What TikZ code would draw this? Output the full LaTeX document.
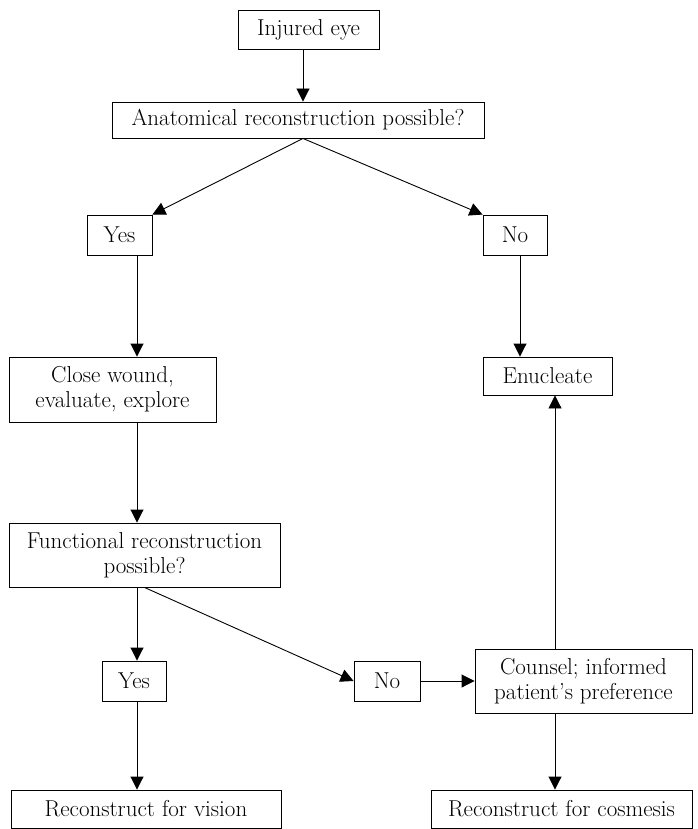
\documentclass[tikz,border=0pt]{standalone}
\usetikzlibrary{arrows.meta}
\begin{document}
\begin{tikzpicture}[x=1pt,y=-1pt,
  box/.style={draw, line width=0.9pt, inner sep=0pt, align=center,
    font=\fontsize{23}{25}\selectfont},
  arr/.style={line width=0.9pt, -{Triangle[length=13pt,width=13pt]}}]
\useasboundingbox (0,0) rectangle (697,829);
% nodes
\node[box, minimum width=141pt, minimum height=39pt] (inj) at (308.5,29.5) {Injured eye};
\node[box, minimum width=372pt, minimum height=36pt] (ana) at (298,120) {Anatomical reconstruction possible?};
\node[box, minimum width=65pt, minimum height=40pt] (yes1) at (119.5,235) {Yes};
\node[box, minimum width=64pt, minimum height=40pt] (no1) at (515,235) {No};
\node[box, minimum width=207pt, minimum height=65pt] (close) at (112.5,389.5) {Close wound,\\evaluate, explore};
\node[box, minimum width=129pt, minimum height=38pt] (enu) at (547.5,376) {Enucleate};
\node[box, minimum width=271pt, minimum height=64pt] (func) at (144.5,555) {Functional reconstruction\\possible?};
\node[box, minimum width=64pt, minimum height=40pt] (yes2) at (134,681) {Yes};
\node[box, minimum width=66pt, minimum height=40pt] (no2) at (387,681) {No};
\node[box, minimum width=217pt, minimum height=64pt] (couns) at (583.5,681) {Counsel; informed\\patient's preference};
\node[box, minimum width=270pt, minimum height=38pt] (recv) at (146,809) {Reconstruct for vision};
\node[box, minimum width=261pt, minimum height=38pt] (recc) at (561.5,809) {Reconstruct for cosmesis};
% column coordinates
\coordinate (cTop) at (303,0);
\coordinate (cL) at (137,0);
\coordinate (cR1) at (520,0);
\coordinate (cR2) at (555,0);
% connectors
\draw[arr] (inj.south -| cTop) -- (ana.north -| cTop);
\draw[arr] (ana.south -| cTop) -- (yes1.north east);
\draw[arr] (ana.south -| cTop) -- (no1.north west);
\draw[arr] (yes1.south -| cL) -- (close.north -| cL);
\draw[arr] (no1.south -| cR1) -- (enu.north -| cR1);
\draw[arr] (close.south -| cL) -- (func.north -| cL);
\draw[arr] (func.south -| cL) -- (yes2.north -| cL);
\draw[arr] (func.south) -- (no2.west);
\draw[arr] (no2.east) -- (couns.west);
\draw[arr] (couns.north -| cR2) -- (enu.south -| cR2);
\draw[arr] (yes2.south -| cL) -- (recv.north -| cL);
\draw[arr] (couns.south -| cR2) -- (recc.north -| cR2);
\end{tikzpicture}
\end{document}
